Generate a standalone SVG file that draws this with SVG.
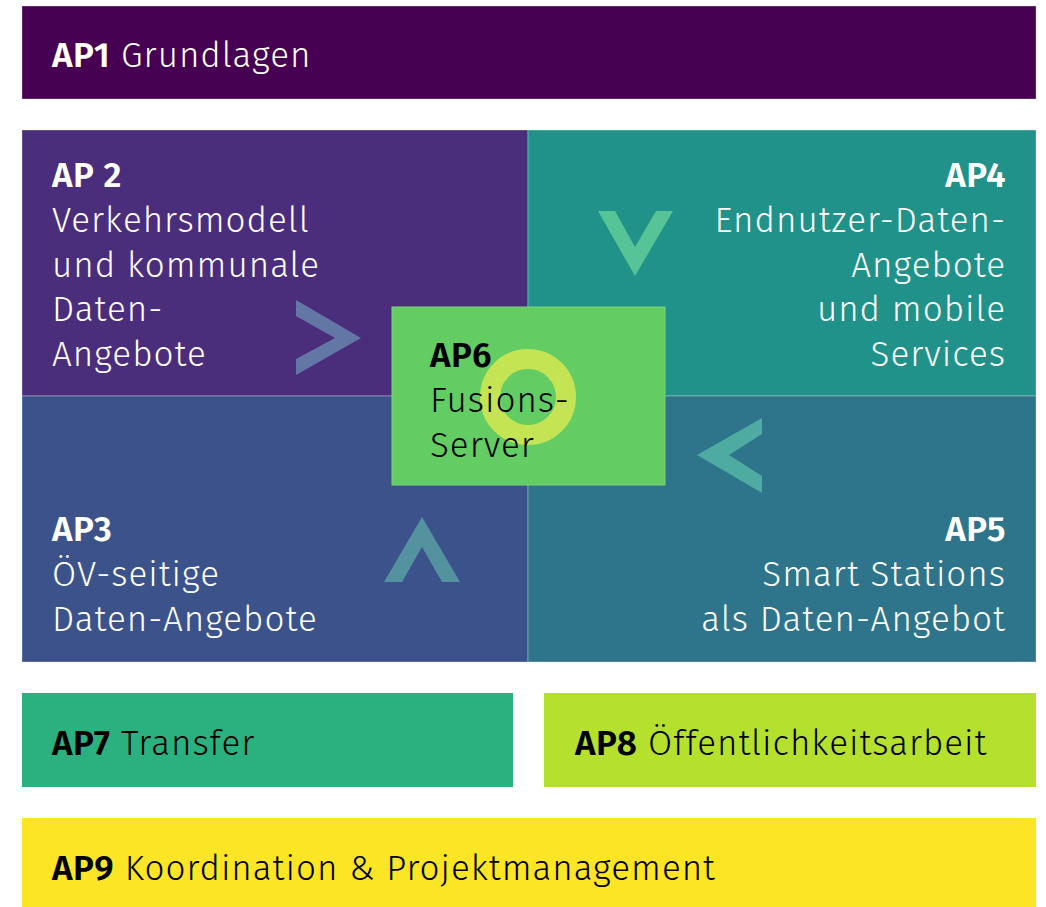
<svg xmlns="http://www.w3.org/2000/svg" width="1046" height="907" viewBox="0 0 1046 907">
<style>
.t{font-family:"Fira Sans","Open Sans","Liberation Sans",sans-serif;font-size:35px;font-weight:300;letter-spacing:1px}
.b{font-weight:600;letter-spacing:0.5px}
.w{fill:#ffffff}
.k{fill:#000000}
.r{text-anchor:end}
.box{stroke:#ffffff;stroke-opacity:0.3;stroke-width:1}
</style>
<rect width="1046" height="907" fill="#ffffff"/>
<g id="ap1">
<rect class="box" x="22" y="6" width="1014" height="93" fill="#470152"/>
<text class="t w" x="52" y="67"><tspan class="b">AP1</tspan> Grundlagen</text>
</g>
<g id="ap2">
<rect class="box" x="22" y="130" width="506" height="266" fill="#4A2E7B"/>
<text class="t w" x="52" y="187"><tspan class="b">AP 2</tspan><tspan x="52" y="232">Verkehrsmodell</tspan><tspan x="52" y="277">und kommunale</tspan><tspan x="52" y="321">Daten-</tspan><tspan x="52" y="366">Angebote</tspan></text>
</g>
<g id="ap4">
<rect class="box" x="528" y="130" width="508" height="266" fill="#21928A"/>
<text class="t w r" x="1006" y="187"><tspan class="b">AP4</tspan><tspan x="1006" y="232">Endnutzer-Daten-</tspan><tspan x="1006" y="277">Angebote</tspan><tspan x="1006" y="321">und mobile</tspan><tspan x="1006" y="366">Services</tspan></text>
</g>
<g id="ap3">
<rect class="box" x="22" y="396" width="506" height="266" fill="#3B538A"/>
<text class="t w" x="52" y="541"><tspan class="b">AP3</tspan><tspan x="52" y="586">ÖV-seitige</tspan><tspan x="52" y="631">Daten-Angebote</tspan></text>
</g>
<g id="ap5">
<rect class="box" x="528" y="396" width="508" height="266" fill="#2E748B"/>
<text class="t w r" x="1006" y="541"><tspan class="b">AP5</tspan><tspan x="1006" y="586">Smart Stations</tspan><tspan x="1006" y="631">als Daten-Angebot</tspan></text>
</g>
<g id="connectors">
<polygon points="296,300 361,338 296,375 296,359 335,338 296,316" fill="#6377A7"/>
<polygon points="598,211 615,211 635,247 656,211 673,211 635,276" fill="#56C497"/>
<polygon points="384,582 422,517 460,582 442,582 422,547 402,582" fill="#5592A0"/>
<polygon points="762,418 762,434 729,455 762,476 762,493 697,455" fill="#4DABA2"/>
</g>
<g id="ap6">
<rect x="392" y="307" width="273" height="178" fill="#63CC62" stroke="#7BD47A" stroke-width="1"/>
<circle cx="528" cy="397" r="38" fill="none" stroke="#C4E454" stroke-width="20"/>
<text class="t k" x="430" y="367"><tspan class="b">AP6</tspan><tspan x="430" y="412">Fusions-</tspan><tspan x="430" y="457">Server</tspan></text>
</g>
<g id="ap7">
<rect x="22" y="693" width="491" height="94" fill="#2BB17F"/>
<text class="t k" x="52" y="755"><tspan class="b">AP7</tspan> Transfer</text>
</g>
<g id="ap8">
<rect x="544" y="693" width="492" height="94" fill="#B6E02E"/>
<text class="t k" x="575" y="755"><tspan class="b">AP8</tspan> Öffentlichkeitsarbeit</text>
</g>
<g id="ap9">
<rect x="22" y="818" width="1014" height="89" fill="#FBE524"/>
<text class="t k" x="52" y="880"><tspan class="b">AP9</tspan> Koordination &amp; Projektmanagement</text>
</g>
</svg>
